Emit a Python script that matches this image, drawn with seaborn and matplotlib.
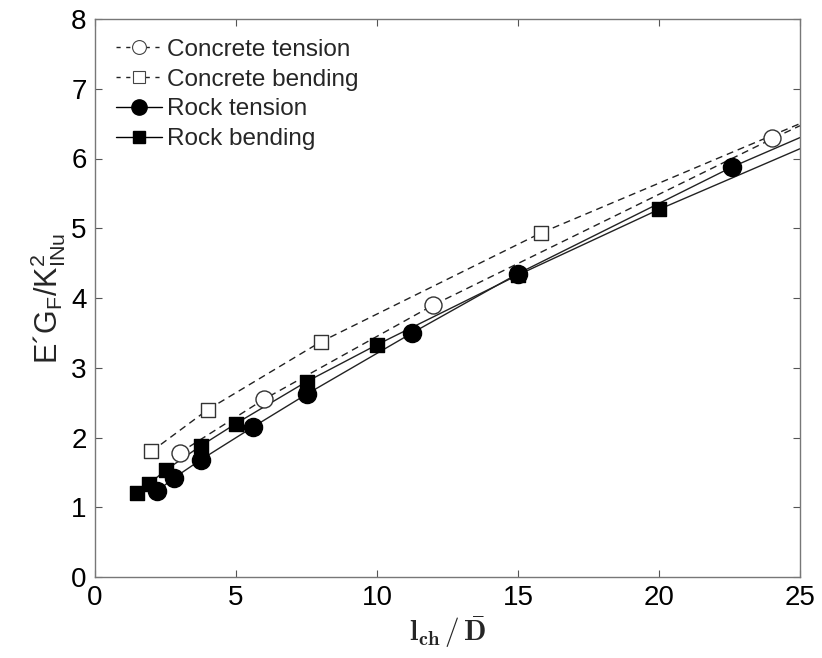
import matplotlib
matplotlib.use("Agg")
import matplotlib.pyplot as plt
import seaborn as sns
import pandas as pd
from matplotlib.lines import Line2D

# ---- data ----
ct_x = [3.0, 6.0, 12.0, 24.0]
ct_y = [1.78, 2.55, 3.90, 6.30]
cb_x = [2.0, 4.0, 8.0, 15.8]
cb_y = [1.80, 2.40, 3.37, 4.93]
rt_x = [2.2, 2.8, 3.75, 5.6, 7.5, 11.25, 15.0, 22.6]
rt_y = [1.23, 1.42, 1.68, 2.15, 2.62, 3.50, 4.35, 5.88]
rb_x = [1.5, 1.9, 2.5, 3.75, 5.0, 7.5, 10.0, 15.0, 20.0]
rb_y = [1.20, 1.33, 1.53, 1.88, 2.20, 2.80, 3.33, 4.33, 5.27]

# fitted-curve traces
ct_fit_x = [3.0, 6.0, 12.0, 24.0, 25.0]
ct_fit_y = [1.78, 2.55, 3.90, 6.28, 6.47]
cb_fit_x = [2.0, 4.0, 8.0, 15.8, 25.0]
cb_fit_y = [1.80, 2.40, 3.37, 4.93, 6.50]
rt_fit_x = [2.2, 2.8, 3.75, 5.6, 7.5, 11.25, 15.0, 22.6, 25.0]
rt_fit_y = [1.23, 1.42, 1.68, 2.15, 2.62, 3.50, 4.35, 5.88, 6.30]
rb_fit_x = [1.5, 1.9, 2.5, 3.75, 5.0, 7.5, 10.0, 15.0, 20.0, 25.0]
rb_fit_y = [1.20, 1.33, 1.53, 1.88, 2.20, 2.80, 3.33, 4.33, 5.27, 6.14]

labels = ["Concrete tension", "Concrete bending", "Rock tension", "Rock bending"]
x_ticks = [0, 5, 10, 15, 20, 25]
y_ticks = [0, 1, 2, 3, 4, 5, 6, 7, 8]

sns.set_theme(style="white")
plt.rcParams["font.family"] = ["Liberation Sans", "DejaVu Sans"]

fig = plt.figure(figsize=(8.22, 6.58), dpi=100)
ax = fig.add_axes([95 / 822, 1 - 577 / 658, 705 / 822, 558 / 658])

line_col = "#222222"
dash = (0, (5, 3.5))

fits = [
    (ct_fit_x, ct_fit_y, dash),
    (cb_fit_x, cb_fit_y, dash),
    (rt_fit_x, rt_fit_y, "-"),
    (rb_fit_x, rb_fit_y, "-"),
]
for fx, fy, ls in fits:
    df = pd.DataFrame({"x": fx, "y": fy})
    sns.lineplot(data=df, x="x", y="y", ax=ax, color=line_col, lw=1.0,
                 linestyle=ls, sort=False, estimator=None)

pts = [
    (ct_x, ct_y, "o", "white", "#333333", 150),
    (cb_x, cb_y, "s", "white", "#333333", 100),
    (rt_x, rt_y, "o", "black", "black", 170),
    (rb_x, rb_y, "s", "black", "black", 110),
]
for px, py, mk, fc, ec, s in pts:
    df = pd.DataFrame({"x": px, "y": py})
    sns.scatterplot(data=df, x="x", y="y", ax=ax, marker=mk, s=s,
                    facecolor=fc, edgecolor=ec, linewidth=1.0, zorder=3)

ax.set_xlim(0, 25)
ax.set_ylim(0, 8)
ax.set_xticks(x_ticks)
ax.set_yticks(y_ticks)
ax.tick_params(direction="in", length=5, width=0.8, color="#555555",
               labelsize=20, labelcolor="black", top=True, right=True,
               bottom=True, left=True, pad=6)
for sp in ax.spines.values():
    sp.set_color("#777777")
    sp.set_linewidth(1.0)

ax.set_xlabel(r"$\mathbf{l_{ch}\,/\,\bar{D}}$", fontsize=21,
              math_fontfamily="cm", labelpad=2)
ax.set_ylabel(r"E´G$_\mathregular{F}$/K$^\mathregular{2}_\mathregular{INu}$",
              fontsize=22, labelpad=2)

handles = [
    Line2D([], [], color=line_col, lw=1.0, linestyle=(0, (3, 4)), marker="o",
           ms=10, mfc="white", mec="#444444", mew=0.8),
    Line2D([], [], color=line_col, lw=1.0, linestyle=(0, (3, 4)), marker="s",
           ms=8.5, mfc="white", mec="#444444", mew=0.8),
    Line2D([], [], color="black", lw=1.0, marker="o", ms=11, mfc="black",
           mec="black"),
    Line2D([], [], color="black", lw=1.0, marker="s", ms=9, mfc="black",
           mec="black"),
]
ax.legend(handles, labels, loc="upper left", frameon=False, fontsize=17.5,
          handlelength=1.9, handletextpad=0.2, labelspacing=0.32,
          borderaxespad=0.3, bbox_to_anchor=(0.005, 0.995))

fig.savefig("out.png", dpi=100)
